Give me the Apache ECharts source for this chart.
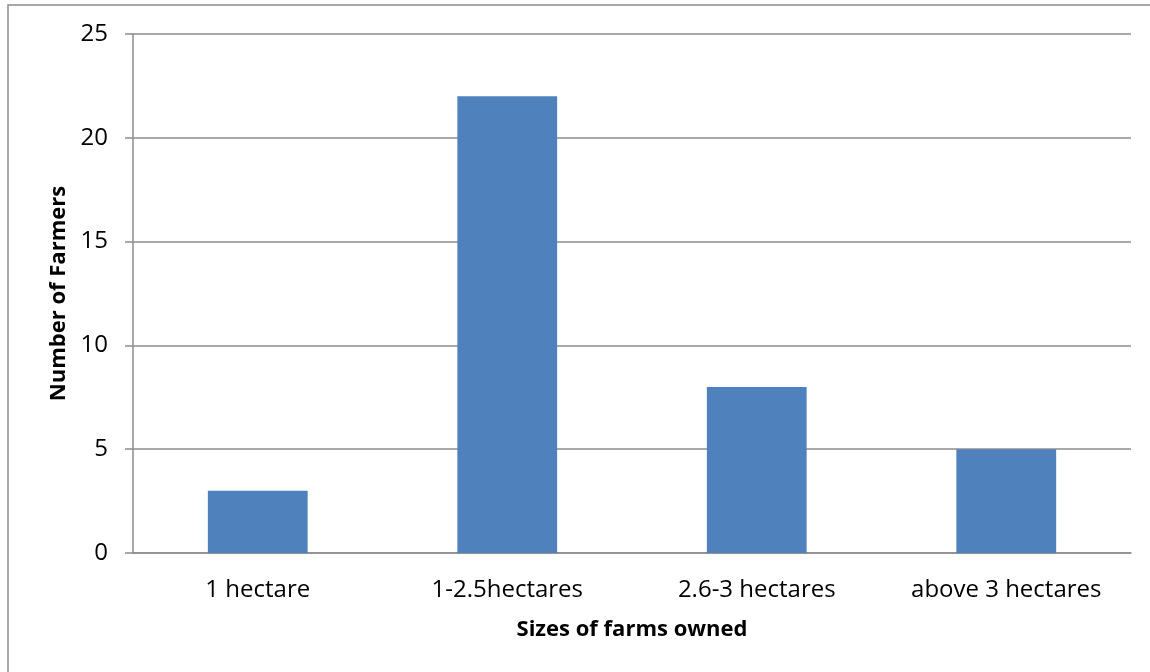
<!DOCTYPE html>
<html>
<head>
<meta charset="utf-8">
<style>
  html, body { margin: 0; padding: 0; background: #fff; }
  #chart { width: 1150px; height: 672px; }
</style>
<script src="https://cdn.jsdelivr.net/npm/echarts@6/dist/echarts.min.js"></script>
</head>
<body>
<div id="chart"></div>
<script>
// Farm size categories and number of farmers in each
const categories = ['1 hectare', '1-2.5hectares', '2.6-3 hectares', 'above 3 hectares'];
const farmers = [3, 22, 8, 5];
const yTicks = [0, 5, 10, 15, 20, 25];

const FONT = '"Open Sans", "Noto Sans", sans-serif';
const chart = echarts.init(document.getElementById('chart'));

chart.setOption({
  animation: false,
  backgroundColor: '#ffffff',
  // chart frame (only its left and top edges fall inside the canvas)
  graphic: [{
    type: 'rect',
    shape: { x: 8, y: 5, width: 1200, height: 720 },
    style: { fill: 'none', stroke: '#8c8c8c', lineWidth: 1.5 },
    silent: true
  }],
  grid: { left: 133, right: 19, top: 34, bottom: 119, containLabel: false },
  xAxis: {
    type: 'category',
    data: categories,
    name: 'Sizes of farms owned',
    nameLocation: 'middle',
    nameGap: 66,
    nameTextStyle: { fontFamily: FONT, fontWeight: 'bold', fontSize: 22, color: '#000' },
    axisLine: { lineStyle: { color: '#8c8c8c', width: 1.5 } },
    axisTick: { show: false },
    axisLabel: { fontFamily: FONT, fontSize: 24, color: '#000', margin: 25 }
  },
  yAxis: {
    type: 'value',
    min: yTicks[0],
    max: yTicks[yTicks.length - 1],
    interval: 5,
    name: 'Number of Farmers',
    nameLocation: 'middle',
    nameGap: 63,
    nameRotate: 90,
    nameTextStyle: { fontFamily: FONT, fontWeight: 'bold', fontSize: 22, color: '#000' },
    axisLine: { show: true, lineStyle: { color: '#8c8c8c', width: 1.5 } },
    axisTick: { show: true, inside: false, length: 8, lineStyle: { color: '#8c8c8c', width: 1.5 } },
    axisLabel: { fontFamily: FONT, fontSize: 24, color: '#000', margin: 25 },
    splitLine: { show: true, lineStyle: { color: '#8c8c8c', width: 1.5 } }
  },
  series: [{
    type: 'bar',
    data: farmers,
    barWidth: '40%',
    itemStyle: { color: '#4F81BD' }
  }]
});
</script>
</body>
</html>
